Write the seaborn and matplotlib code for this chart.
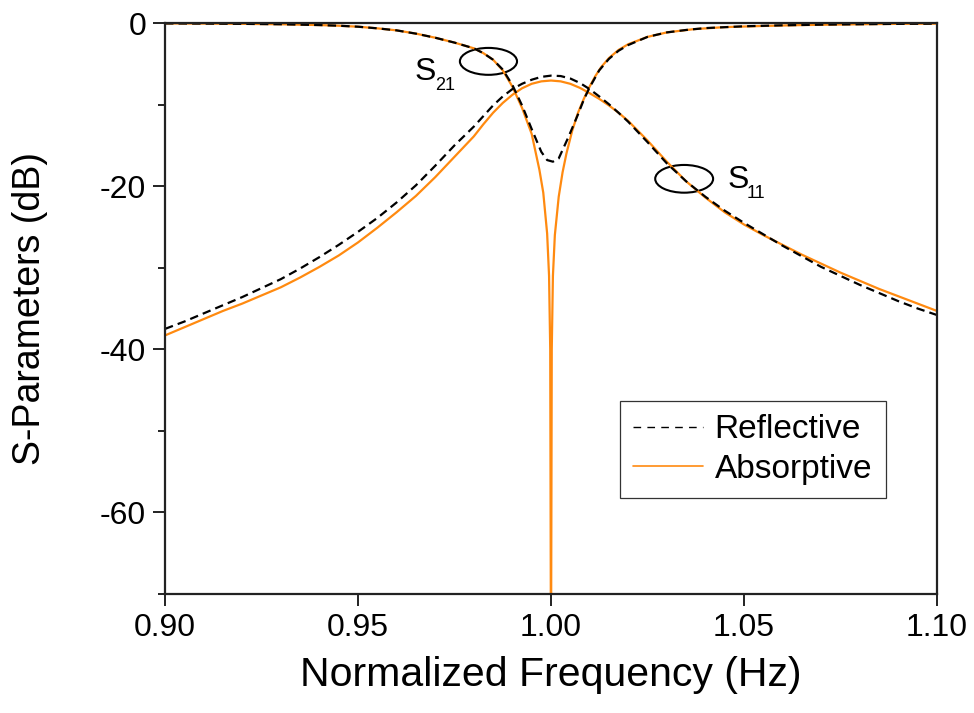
import numpy as np
import pandas as pd
import matplotlib
matplotlib.use("Agg")
import matplotlib.pyplot as plt
from matplotlib.patches import Ellipse
from matplotlib.lines import Line2D
from matplotlib.ticker import MultipleLocator, FormatStrFormatter
import seaborn as sns

### Datos (frecuencia normalizada, dB)
# S11 - peak at centre
s11_freq = [0.900, 0.905, 0.910, 0.915, 0.920, 0.925, 0.930, 0.935, 0.940, 0.945,
            0.950, 0.955, 0.960, 0.965, 0.970, 0.975, 0.980, 0.9825, 0.985, 0.9875,
            0.990, 0.9925, 0.995, 0.9975, 1.000, 1.0025, 1.005, 1.0075, 1.010, 1.0125,
            1.015, 1.0175, 1.020, 1.025, 1.030, 1.035, 1.040, 1.045, 1.050, 1.055,
            1.060, 1.065, 1.070, 1.075, 1.080, 1.085, 1.090, 1.095, 1.100]
s11_reflective = [-37.5, -36.6, -35.6, -34.6, -33.6, -32.5, -31.4, -30.1, -28.7, -27.2,
                  -25.6, -23.9, -22.0, -19.9, -17.5, -15.0, -12.7, -11.4, -10.1, -9.0,
                  -8.1, -7.45, -6.95, -6.6, -6.45, -6.5, -6.8, -7.35, -8.1, -9.0,
                  -9.95, -11.0, -12.1, -14.6, -17.2, -19.4, -21.3, -23.0, -24.5, -25.9,
                  -27.3, -28.6, -29.9, -31.0, -32.1, -33.1, -34.1, -35.0, -35.8]
s11_absorptive = [-38.3, -37.3, -36.3, -35.3, -34.4, -33.4, -32.4, -31.2, -29.9, -28.5,
                  -26.9, -25.1, -23.2, -21.2, -18.9, -16.4, -13.9, -12.4, -11.0, -9.8,
                  -8.8, -8.0, -7.45, -7.15, -7.05, -7.15, -7.45, -7.95, -8.6, -9.3,
                  -10.1, -11.0, -12.0, -14.4, -17.0, -19.4, -21.4, -23.2, -24.7, -26.0,
                  -27.2, -28.4, -29.5, -30.6, -31.6, -32.6, -33.5, -34.4, -35.3]

# S21 - reflective (dip ~ -17 dB)
s21r_freq = [0.900, 0.910, 0.920, 0.930, 0.940, 0.945, 0.950, 0.955, 0.960, 0.965,
             0.970, 0.975, 0.980, 0.9825, 0.985, 0.9875, 0.990, 0.9925, 0.995, 0.9975,
             0.999, 1.0005, 1.002, 1.0045, 1.007, 1.0085, 1.010, 1.0125, 1.015, 1.0175,
             1.020, 1.025, 1.030, 1.035, 1.040, 1.050, 1.060, 1.070, 1.080, 1.090, 1.100]
s21_reflective = [-0.05, -0.07, -0.1, -0.15, -0.25, -0.33, -0.45, -0.65, -0.9, -1.3,
                  -1.8, -2.4, -3.1, -3.7, -4.5, -5.7, -7.6, -10.1, -13.0, -15.8,
                  -16.8, -17.0, -16.6, -14.0, -11.2, -9.4, -7.9, -5.8, -4.4, -3.4,
                  -2.7, -1.7, -1.15, -0.85, -0.62, -0.4, -0.28, -0.2, -0.15, -0.1, -0.08]

# S21 - absorptive (deep notch at 1.00)
s21a_freq = [0.900, 0.910, 0.920, 0.930, 0.940, 0.945, 0.950, 0.955, 0.960, 0.965,
             0.970, 0.975, 0.980, 0.9825, 0.985, 0.9875, 0.990, 0.9925, 0.995, 0.997,
             0.998, 0.999, 0.9995, 0.9998, 1.000, 1.0002, 1.0005, 1.001, 1.002, 1.003,
             1.004, 1.0055, 1.007, 1.0085, 1.010, 1.0115, 1.013, 1.015, 1.0175, 1.020,
             1.025, 1.030, 1.037, 1.045, 1.054, 1.065, 1.080, 1.090, 1.100]
s21_absorptive = [-0.05, -0.07, -0.1, -0.15, -0.25, -0.33, -0.45, -0.65, -0.9, -1.3,
                  -1.8, -2.4, -3.1, -3.7, -4.5, -5.8, -7.8, -10.4, -13.6, -18.0,
                  -20.8, -25.8, -31.0, -40.0, -80.0, -40.0, -31.0, -26.0, -21.3, -18.3,
                  -16.0, -13.2, -11.0, -9.3, -7.8, -6.5, -5.4, -4.3, -3.3, -2.6,
                  -1.7, -1.15, -0.75, -0.5, -0.37, -0.25, -0.15, -0.1, -0.08]

etiquetas = ["Reflective", "Absorptive"]
NARANJA = "#FF8A10"

sns.set_style("ticks")
plt.rcParams['font.family'] = ['Liberation Sans', 'DejaVu Sans']
plt.rcParams['axes.unicode_minus'] = False
plt.rcParams['text.color'] = 'black'
plt.rcParams['axes.labelcolor'] = 'black'
plt.rcParams['xtick.color'] = 'black'
plt.rcParams['ytick.color'] = 'black'

fig = plt.figure(figsize=(9.74, 7.13), dpi=100)
ax = fig.add_axes([0.1694, 0.1669, 0.7926, 0.8008])

### Primero las curvas absorptivas (naranja), encima las reflectivas (discontinuas)
sns.lineplot(x=s11_freq, y=s11_absorptive, ax=ax, color=NARANJA, lw=1.6,
             sort=False, estimator=None, legend=False)
sns.lineplot(x=s21a_freq, y=s21_absorptive, ax=ax, color=NARANJA, lw=1.6,
             sort=False, estimator=None, legend=False)
sns.lineplot(x=s11_freq, y=s11_reflective, ax=ax, color="black", lw=1.6,
             sort=False, estimator=None, legend=False)
ax.lines[-1].set_dashes((3.8, 2.3))
sns.lineplot(x=s21r_freq, y=s21_reflective, ax=ax, color="black", lw=1.6,
             sort=False, estimator=None, legend=False)
ax.lines[-1].set_dashes((3.8, 2.3))

ax.set_xlim(0.90, 1.10)
ax.set_ylim(-70, 0)

### Ejes y ticks
ax.xaxis.set_major_locator(MultipleLocator(0.05))
ax.xaxis.set_major_formatter(FormatStrFormatter('%.2f'))
ax.yaxis.set_major_locator(MultipleLocator(20))
ax.yaxis.set_minor_locator(MultipleLocator(10))
ax.tick_params(axis='both', which='major', direction='out', length=8.5, width=1.4,
               labelsize=23, pad=5, color='#222222', labelcolor='black')
ax.tick_params(axis='y', which='minor', direction='out', length=5, width=1.4,
               color='#222222')
ax.tick_params(top=False, right=False)
for sp in ax.spines.values():
    sp.set_linewidth(1.6)
    sp.set_color('#222222')

ax.set_xlabel("Normalized Frequency (Hz)", fontsize=29.5, color='black')
ax.set_ylabel("S-Parameters (dB)", fontsize=27, color='black')
ax.xaxis.set_label_coords(0.5, -0.108)
ax.yaxis.set_label_coords(-0.152, 0.5)

### Anotaciones S21 y S11
ax.add_patch(Ellipse((0.9838, -4.7), 0.0148, 3.3, fill=False, ec='black', lw=1.5))
ax.add_patch(Ellipse((1.0345, -19.1), 0.0150, 3.4, fill=False, ec='black', lw=1.5))
ax.text(0.9647, -7.0, "S", fontsize=23, ha='left', va='baseline')
ax.text(0.9700, -8.2, "21", fontsize=13, ha='left', va='baseline')
ax.text(1.0458, -20.2, "S", fontsize=23, ha='left', va='baseline')
ax.text(1.0508, -21.5, "11", fontsize=13, ha='left', va='baseline')

### Leyenda
handles = [Line2D([], [], color='black', lw=1.0, dashes=(5.5, 4.5)),
           Line2D([], [], color=NARANJA, lw=1.2)]
leg = ax.legend(handles, etiquetas, loc='upper left', bbox_to_anchor=(0.589, 0.338),
                borderaxespad=0, fontsize=24, frameon=True, fancybox=False,
                handlelength=2.1, handletextpad=0.35, labelspacing=0.25,
                borderpad=0.4)
leg.get_frame().set_edgecolor('#333333')
leg.get_frame().set_linewidth(0.9)
leg.get_frame().set_alpha(1)

fig.savefig("out.png", dpi=100)
